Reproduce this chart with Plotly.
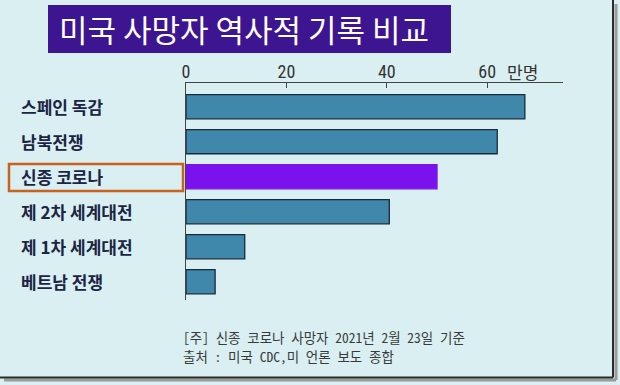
import plotly.graph_objects as go

categories = ["스페인 독감", "남북전쟁", "신종 코로나", "제 2차 세계대전", "제 1차 세계대전", "베트남 전쟁"]
deaths_10k = [67.5, 62.0, 50.0, 40.5, 11.7, 5.8]
highlight = "신종 코로나"
tick_values = [0, 20, 40, 60]
tick_labels = ["0", "20", "40", "60"]
unit_label = "만명"
title_text = "미국 사망자 역사적 기록 비교"
note_lines = ["[주] 신종 코로나 사망자 2021년 2월 23일 기준", "출처 : 미국 CDC,미 언론 보도 종합"]

W, H = 620, 385
L, R, T, B = 186, 57, 83, 85
PW, PH = W - L - R, H - T - B

def px_x(p):
    return (p - L) / PW

def px_y(p):
    return 1 - (p - T) / PH

BLUE = "#3f87ab"
PURPLE = "#7a12ee"
BG = "#d9eff1"

bar_colors = [PURPLE if c == highlight else BLUE for c in categories]
line_colors = [PURPLE if c == highlight else "#1b2a38" for c in categories]

fig = go.Figure(go.Bar(
    y=categories, x=deaths_10k, orientation="h",
    marker=dict(color=bar_colors, line=dict(color=line_colors, width=1.3)),
    width=0.69,
))

label_font = "Noto Sans CJK KR"

annotations = []
for c in categories:
    annotations.append(dict(
        text=c, xref="paper", yref="y", x=px_x(19), y=c, xanchor="left", yanchor="middle",
        showarrow=False, font=dict(family=label_font, size=17, color="#1c2444", weight="bold"),
    ))

annotations.append(dict(
    text=title_text, xref="paper", yref="paper", x=px_x(244), y=px_y(29),
    xanchor="center", yanchor="middle", showarrow=False,
    font=dict(family=label_font, size=31, color="white"),
))
annotations.append(dict(
    text=unit_label, xref="paper", yref="paper", x=px_x(505), y=px_y(71),
    xanchor="left", yanchor="middle", showarrow=False,
    font=dict(family=label_font, size=17, color="#333333"),
))
for i, line in enumerate(note_lines):
    annotations.append(dict(
        text=line, xref="paper", yref="paper", x=px_x(181), y=px_y(336.5 + 19.8 * i),
        xanchor="left", yanchor="middle", align="left", showarrow=False,
        font=dict(family="Noto Sans Mono CJK KR, Noto Sans CJK KR", size=13.5, color="#3a3a3a"),
    ))

shapes = [
    dict(type="rect", xref="paper", yref="paper", x0=px_x(48), x1=px_x(451), y0=px_y(53), y1=px_y(5),
         fillcolor="#3d1590", line=dict(width=0), layer="below"),
    dict(type="rect", xref="paper", yref="paper", x0=px_x(9), x1=px_x(183), y0=px_y(191), y1=px_y(164),
         fillcolor="rgba(0,0,0,0)", line=dict(color="#c8621e", width=2.5)),
    # frame border with shadow
    dict(type="line", xref="paper", yref="paper", x0=px_x(616), x1=px_x(616), y0=px_y(4), y1=px_y(380),
         line=dict(color="#9a9a9a", width=3)),
    dict(type="line", xref="paper", yref="paper", x0=px_x(4), x1=px_x(616), y0=px_y(380), y1=px_y(380),
         line=dict(color="#9a9a9a", width=3)),
    dict(type="line", xref="paper", yref="paper", x0=px_x(613), x1=px_x(613), y0=px_y(0), y1=px_y(377.5),
         line=dict(color="#2a2a2a", width=2)),
    dict(type="line", xref="paper", yref="paper", x0=px_x(0), x1=px_x(613), y0=px_y(377.5), y1=px_y(377.5),
         line=dict(color="#2a2a2a", width=2)),
]

fig.update_layout(
    width=W, height=H,
    margin=dict(l=L, r=R, t=T, b=B, pad=0),
    paper_bgcolor=BG, plot_bgcolor=BG,
    showlegend=False,
    annotations=annotations,
    shapes=shapes,
    xaxis=dict(
        side="top", range=[0, PW / 5.02], tickvals=tick_values, ticktext=tick_labels,
        showgrid=False, zeroline=False, showline=True, linecolor="#444444", linewidth=1.2,
        ticks="inside", ticklen=5, tickcolor="#444444", ticklabelstandoff=-3,
        tickfont=dict(family="Liberation Sans Narrow, Roboto Condensed, Liberation Sans", size=18, color="#333333"),
    ),
    yaxis=dict(
        type="category", categoryorder="array", categoryarray=categories,
        range=[PH / 35 - 23.7 / 35, -23.7 / 35],
        showticklabels=False, showgrid=False, zeroline=False,
        showline=True, linecolor="#444444", linewidth=1.2, ticks="",
    ),
)

fig.write_html(
    "out.html",
    config={"displayModeBar": False},
    post_script="document.body.style.margin='0';document.body.style.overflow='hidden';",
)
